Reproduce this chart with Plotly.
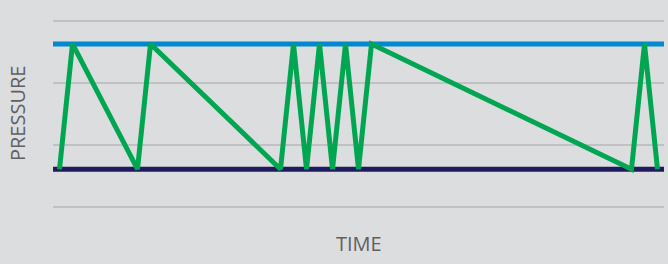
import plotly.graph_objects as go

# Data (time in arbitrary units, pressure in arbitrary units)
time_span = [0, 47]
high_pressure = [2.63, 2.63]
low_pressure = [0.61, 0.61]
cycle_time = [0.5, 1.5, 6.5, 7.5, 17.5, 18.5, 19.5, 20.5, 21.5, 22.5, 23.5, 24.5, 44.5, 45.5, 46.5]
cycle_pressure = [0.61, 2.63, 0.61, 2.63, 0.61, 2.63, 0.61, 2.63, 0.61, 2.63, 0.61, 2.63, 0.61, 2.63, 0.61]
x_title = "TIME"
y_title = "PRESSURE"

label_font = dict(family="Open Sans", color="#5f6062", size=20)

fig = go.Figure()
fig.add_trace(go.Scatter(x=time_span, y=high_pressure, mode="lines",
                         line=dict(color="#0088d1", width=5), showlegend=False, hoverinfo="skip"))
fig.add_trace(go.Scatter(x=time_span, y=low_pressure, mode="lines",
                         line=dict(color="#1f1a5e", width=5), showlegend=False, hoverinfo="skip"))
fig.add_trace(go.Scatter(x=cycle_time, y=cycle_pressure, mode="lines",
                         line=dict(color="#00a651", width=5), showlegend=False))

fig.add_annotation(text=x_title, xref="paper", yref="paper", x=0.5, y=0, font=label_font,
                   xanchor="center", yanchor="middle", yshift=-29, showarrow=False)
fig.add_annotation(text=y_title, xref="paper", yref="paper", x=0, y=0.5, textangle=-90, font=label_font,
                   xanchor="center", yanchor="middle", xshift=-36, showarrow=False)

fig.update_layout(
    width=668, height=264,
    margin=dict(l=53, r=4, t=14, b=50),
    paper_bgcolor="#dcdddf", plot_bgcolor="#dcdddf",
    font=label_font,
    xaxis=dict(range=time_span, showgrid=False, zeroline=False, showticklabels=False, ticks=""),
    yaxis=dict(range=[-0.113, 3.113], tickmode="array", tickvals=[0, 1, 2, 3],
               showgrid=True, gridcolor="#c0c1c3", gridwidth=2, zeroline=False,
               showticklabels=False, ticks=""),
)
fig.write_html("out.html", config={"displayModeBar": False},
               post_script="document.body.style.margin='0';document.body.style.background='#dcdddf';")
